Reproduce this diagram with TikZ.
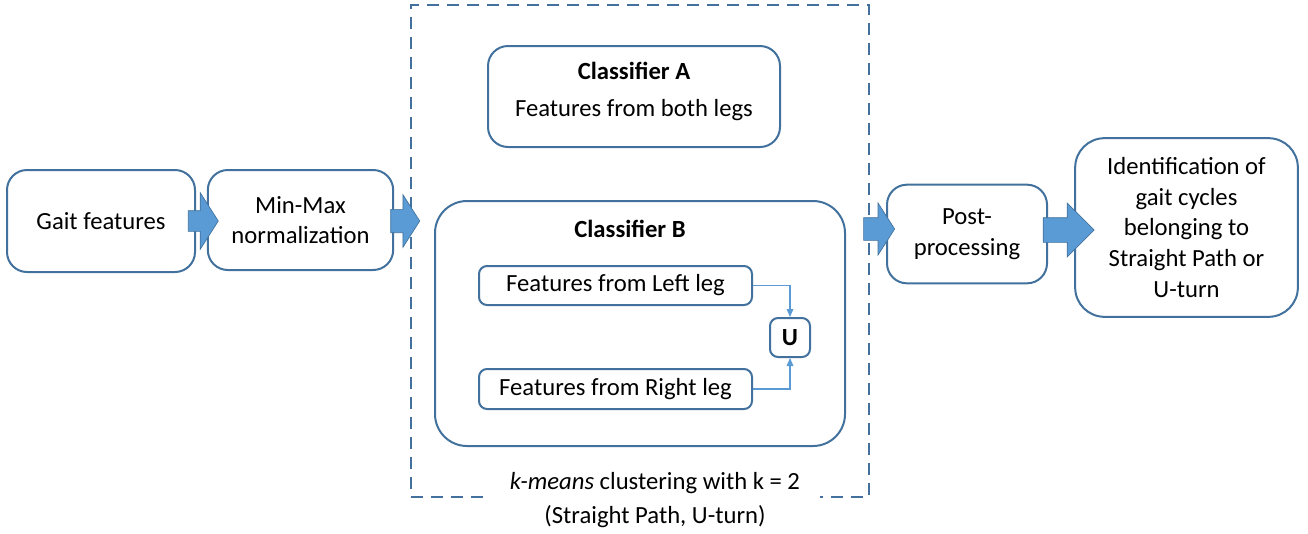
\documentclass[tikz,border=0pt]{standalone}
\usepackage{fontspec}
\setmainfont{Carlito}
\usetikzlibrary{shapes.arrows,arrows.meta,positioning}
\definecolor{boxblue}{HTML}{41719C}
\definecolor{fillblue}{HTML}{5B9BD5}

\begin{document}
\begin{tikzpicture}[
    x=0.75pt, y=-0.75pt,
    font=\fontsize{18.5}{23}\selectfont,
    box/.style={rectangle, rounded corners=15pt, draw=boxblue, line width=1.5pt, align=center, inner sep=0pt},
    smallbox/.style={box, rounded corners=6pt},
    blockarrow/.style={single arrow, draw=boxblue, line width=0.5pt, fill=fillblue, inner xsep=0pt, inner ysep=7.5pt, single arrow head extend=10pt, single arrow tip angle=115},
    link/.style={draw=fillblue, line width=0.8pt, -{Triangle[length=6pt,width=5pt]}},
    cluster/.style={rectangle, draw=boxblue, line width=1.5pt, dash pattern=on 9pt off 6pt}
]
\useasboundingbox (0,0) rectangle (1308,533);

% RAGGRUPPAMENTO K-MEANS
\node[cluster, minimum width=343.5pt, minimum height=369pt] (cluster) at (640,251) {};
\node[fill=white, align=center, inner xsep=15pt, inner ysep=2pt] (kmeans) at (655,500)
    {\textit{k-means} clustering with k = 2\\[2.5pt](Straight Path, U-turn)};

% BLOCCHI
\node[box, minimum width=141pt, minimum height=76.5pt] (gait) at (101,221) {Gait features};
\node[box, minimum width=139pt, minimum height=75pt] (minmax) at (300.5,220) {Min-Max\\normalization};
\node[box, minimum width=219pt, minimum height=75.75pt, text depth=11pt] (classA) at (634,96.5)
    {\textbf{Classifier A}\\[5pt]Features from both legs};
\node[box, rounded corners=24pt, minimum width=307.5pt, minimum height=183.75pt] (classB) at (640,323.5) {};
\node (classBtitle) at (630,229) {\textbf{Classifier B}};
\node[smallbox, minimum width=204.75pt, minimum height=29.25pt] (leftleg) at (615.5,285.5) {Features from Left leg};
\node[smallbox, minimum width=204.75pt, minimum height=30pt] (rightleg) at (615.5,389) {Features from Right leg};
\node[smallbox, minimum width=30pt, minimum height=29.25pt] (union) at (790,337.5) {\textbf{U}};
\node[box, minimum width=120pt, minimum height=74pt] (post) at (967,234) {Post-\\processing};
\node[box, rounded corners=22pt, minimum width=167pt, minimum height=134pt] (ident) at (1186.5,227.5)
    {Identification of\\gait cycles\\belonging to\\Straight Path or\\U-turn};

% UNIONE
\draw[link] (leftleg.east) -| (union.north);
\draw[link] (rightleg.east) -| (union.south);

% FRECCE
\node[blockarrow, minimum height=22.5pt, single arrow head extend=13.5pt] (arrGait) at (200,221) {};
\node[blockarrow, minimum height=21.75pt, inner ysep=8.5pt, single arrow head extend=11pt] (arrNorm) at (401.5,221) {};
\node[blockarrow, minimum height=23.25pt, inner ysep=8.25pt, single arrow head extend=11pt] (arrClass) at (875.5,229) {};
\node[blockarrow, minimum height=38.25pt, inner ysep=9pt, single arrow head extend=11pt, single arrow tip angle=90] (arrPost) at (1062.5,230) {};

\end{tikzpicture}
\end{document}
